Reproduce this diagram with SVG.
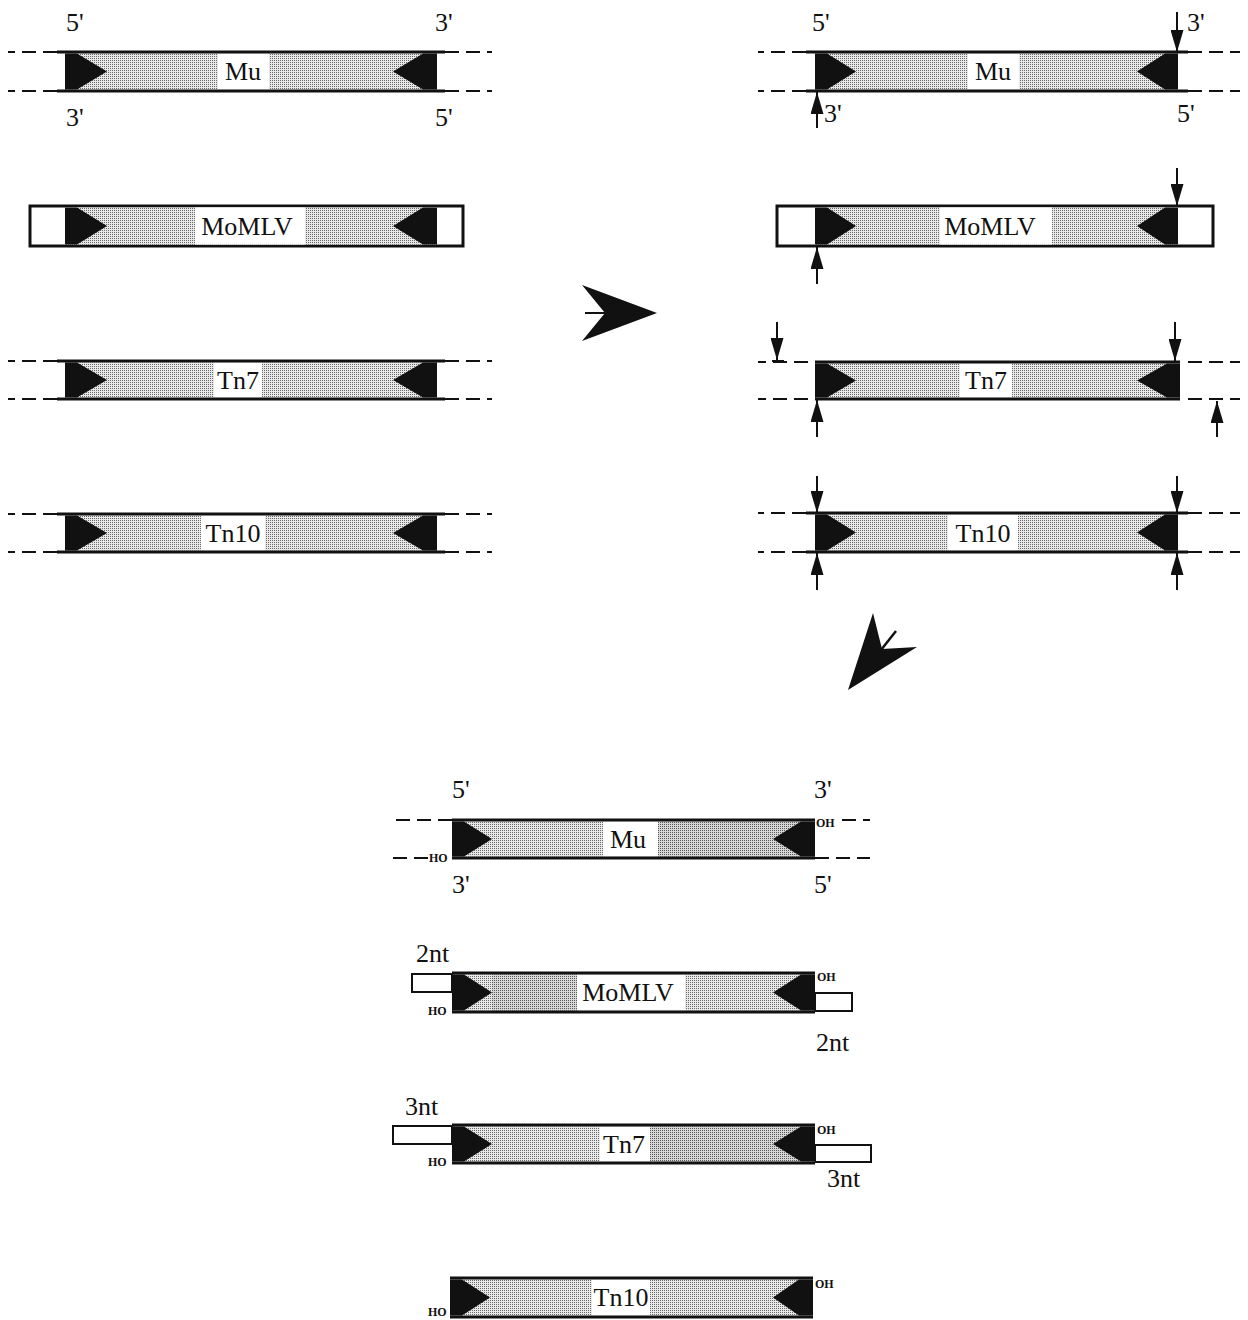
<svg xmlns="http://www.w3.org/2000/svg" width="1248" height="1320" viewBox="0 0 1248 1320">
  <style>
    .ln { stroke: #111; stroke-width: 3; fill: none; }
    .dash { stroke: #111; stroke-width: 2; stroke-dasharray: 14 7; fill: none; }
    .cap { fill: #111; }
    .stip { fill: url(#stip); }
    .stip2 { fill: url(#stip2); }
    .lbl { fill: #fff; }
    .frame { fill: #fff; stroke: #111; stroke-width: 3; }
    .box { fill: #fff; stroke: #111; stroke-width: 2; }
    .cut { stroke: #111; stroke-width: 2; marker-end: url(#cut); }
    .t { font-family: "Liberation Serif", "Times New Roman", serif; font-size: 26px; fill: #111; }
    .s { font-family: "Liberation Serif", "Times New Roman", serif; font-size: 12px; font-weight: bold; fill: #111; }
    .mid { text-anchor: middle; }
  </style>
  <defs>
    <!-- fine halftone stipple used inside the element bodies -->
    <pattern id="stip" width="2" height="2" patternUnits="userSpaceOnUse">
      <rect width="2" height="2" fill="#e8e8e8"/>
      <rect width="1" height="1" fill="#6a6a6a"/>
    </pattern>
    <pattern id="stip2" width="2" height="2" patternUnits="userSpaceOnUse">
      <rect width="2" height="2" fill="#d6d6d6"/>
      <rect width="1" height="1" fill="#5a5a5a"/>
    </pattern>
    <marker id="cut" markerUnits="userSpaceOnUse" markerWidth="22" markerHeight="13" viewBox="0 0 22 13" refX="22" refY="6.5" orient="auto">
      <path d="M0,0 L22,6.5 L0,13 Z" fill="#111"/>
    </marker>
  </defs>
  <rect width="1248" height="1320" fill="#fff"/>

  <!-- left column: intact elements -->
  <g id="mu-left">
    <rect class="stip" x="65" y="53.5" width="372" height="36"/>
    <polygon class="cap" points="65,53.5 77,53.5 107,71.5 77,89.5 65,89.5"/>
    <polygon class="cap" points="437,53.5 423,53.5 393,71.5 423,89.5 437,89.5"/>
    <rect class="lbl" x="218" y="53.5" width="51" height="36"/>
    <text class="t mid" x="243" y="80">Mu</text>
    <line class="ln" x1="57" y1="52" x2="445" y2="52"/>
    <line class="ln" x1="57" y1="91" x2="445" y2="91"/>
    <line class="dash" x1="57" y1="52" x2="8" y2="52"/>
    <line class="dash" x1="57" y1="91" x2="8" y2="91"/>
    <line class="dash" x1="445" y1="52" x2="492" y2="52"/>
    <line class="dash" x1="445" y1="91" x2="492" y2="91"/>
    <text class="t" x="66" y="31">5'</text>
    <text class="t" x="435" y="31">3'</text>
    <text class="t" x="66" y="126">3'</text>
    <text class="t" x="435" y="126">5'</text>
  </g>

  <g id="momlv-left">
    <rect class="frame" x="30" y="206" width="433" height="40"/>
    <rect class="stip" x="65" y="207.5" width="372" height="37"/>
    <polygon class="cap" points="65,207.5 77,207.5 107,226 77,244.5 65,244.5"/>
    <polygon class="cap" points="437,207.5 423,207.5 393,226 423,244.5 437,244.5"/>
    <rect class="lbl" x="195" y="207.5" width="110" height="37"/>
    <text class="t mid" x="247" y="235">MoMLV</text>
  </g>

  <g id="tn7-left">
    <rect class="stip" x="65" y="362.5" width="372" height="35"/>
    <polygon class="cap" points="65,362.5 77,362.5 107,380 77,397.5 65,397.5"/>
    <polygon class="cap" points="437,362.5 423,362.5 393,380 423,397.5 437,397.5"/>
    <rect class="lbl" x="214" y="362.5" width="48" height="35"/>
    <text class="t mid" x="238" y="389">Tn7</text>
    <line class="ln" x1="57" y1="361" x2="445" y2="361"/>
    <line class="ln" x1="57" y1="399" x2="445" y2="399"/>
    <line class="dash" x1="57" y1="361" x2="8" y2="361"/>
    <line class="dash" x1="57" y1="399" x2="8" y2="399"/>
    <line class="dash" x1="445" y1="361" x2="492" y2="361"/>
    <line class="dash" x1="445" y1="399" x2="492" y2="399"/>
  </g>

  <g id="tn10-left">
    <rect class="stip" x="65" y="515.5" width="372" height="35"/>
    <polygon class="cap" points="65,515.5 77,515.5 107,533 77,550.5 65,550.5"/>
    <polygon class="cap" points="437,515.5 423,515.5 393,533 423,550.5 437,550.5"/>
    <rect class="lbl" x="201" y="515.5" width="64" height="35"/>
    <text class="t mid" x="233" y="542">Tn10</text>
    <line class="ln" x1="57" y1="514" x2="445" y2="514"/>
    <line class="ln" x1="57" y1="552" x2="445" y2="552"/>
    <line class="dash" x1="57" y1="514" x2="8" y2="514"/>
    <line class="dash" x1="57" y1="552" x2="8" y2="552"/>
    <line class="dash" x1="445" y1="514" x2="492" y2="514"/>
    <line class="dash" x1="445" y1="552" x2="492" y2="552"/>
  </g>

  <!-- right column: elements with cleavage sites -->
  <g id="mu-right">
    <rect class="stip" x="815" y="53.5" width="363" height="36"/>
    <polygon class="cap" points="815,53.5 827,53.5 856,71.5 827,89.5 815,89.5"/>
    <polygon class="cap" points="1178,53.5 1165,53.5 1137,71.5 1165,89.5 1178,89.5"/>
    <rect class="lbl" x="968" y="53.5" width="51" height="36"/>
    <text class="t mid" x="993" y="80">Mu</text>
    <line class="ln" x1="806" y1="52" x2="1188" y2="52"/>
    <line class="ln" x1="806" y1="91" x2="1188" y2="91"/>
    <line class="dash" x1="806" y1="52" x2="758" y2="52"/>
    <line class="dash" x1="806" y1="91" x2="758" y2="91"/>
    <line class="dash" x1="1188" y1="52" x2="1240" y2="52"/>
    <line class="dash" x1="1188" y1="91" x2="1240" y2="91"/>
    <text class="t" x="812" y="31">5'</text>
    <text class="t" x="1187" y="31">3'</text>
    <text class="t" x="824" y="122">3'</text>
    <text class="t" x="1177" y="122">5'</text>
  </g>

  <g id="momlv-right">
    <rect class="frame" x="777" y="206" width="436" height="40"/>
    <rect class="stip" x="815" y="207.5" width="363" height="37"/>
    <polygon class="cap" points="815,207.5 827,207.5 856,226 827,244.5 815,244.5"/>
    <polygon class="cap" points="1178,207.5 1165,207.5 1137,226 1165,244.5 1178,244.5"/>
    <rect class="lbl" x="940" y="207.5" width="112" height="37"/>
    <text class="t mid" x="990" y="235">MoMLV</text>
  </g>

  <g id="tn7-right">
    <rect class="stip" x="815" y="363.5" width="365" height="34"/>
    <polygon class="cap" points="815,363.5 827,363.5 856,380.5 827,397.5 815,397.5"/>
    <polygon class="cap" points="1180,363.5 1167,363.5 1137,380.5 1167,397.5 1180,397.5"/>
    <rect class="lbl" x="960" y="363.5" width="52" height="34"/>
    <text class="t mid" x="986" y="389">Tn7</text>
    <line class="ln" x1="815" y1="362" x2="1180" y2="362"/>
    <line class="ln" x1="815" y1="399" x2="1180" y2="399"/>
    <line class="dash" x1="808" y1="362" x2="758" y2="362"/>
    <line class="dash" x1="808" y1="399" x2="758" y2="399"/>
    <line class="dash" x1="1188" y1="362" x2="1240" y2="362"/>
    <line class="dash" x1="1188" y1="399" x2="1240" y2="399"/>
  </g>

  <g id="tn10-right">
    <rect class="stip" x="815" y="514.5" width="363" height="36"/>
    <polygon class="cap" points="815,514.5 827,514.5 856,532.5 827,550.5 815,550.5"/>
    <polygon class="cap" points="1178,514.5 1165,514.5 1137,532.5 1165,550.5 1178,550.5"/>
    <rect class="lbl" x="948" y="514.5" width="70" height="36"/>
    <text class="t mid" x="983" y="542">Tn10</text>
    <line class="ln" x1="806" y1="513" x2="1188" y2="513"/>
    <line class="ln" x1="806" y1="552" x2="1188" y2="552"/>
    <line class="dash" x1="806" y1="513" x2="758" y2="513"/>
    <line class="dash" x1="806" y1="552" x2="758" y2="552"/>
    <line class="dash" x1="1188" y1="513" x2="1240" y2="513"/>
    <line class="dash" x1="1188" y1="552" x2="1240" y2="552"/>
  </g>

  <!-- bottom: cleaved products -->
  <g id="mu-product">
    <rect class="stip" x="452" y="821.5" width="363" height="35"/>
    <rect class="stip2" x="658" y="821.5" width="143" height="35"/>
    <polygon class="cap" points="452,821.5 464,821.5 492,839 464,856.5 452,856.5"/>
    <polygon class="cap" points="815,821.5 801,821.5 773,839 801,856.5 815,856.5"/>
    <rect class="lbl" x="603" y="821.5" width="55" height="35"/>
    <text class="t mid" x="628" y="848">Mu</text>
    <line class="ln" x1="452" y1="820" x2="815" y2="820"/>
    <line class="ln" x1="452" y1="858" x2="815" y2="858"/>
    <line class="dash" x1="452" y1="820" x2="393" y2="820"/>
    <line class="dash" x1="428" y1="858" x2="393" y2="858"/>
    <line class="dash" x1="842" y1="820" x2="870" y2="820"/>
    <line class="dash" x1="815" y1="858" x2="870" y2="858"/>
    <text class="s" x="816" y="827">OH</text>
    <text class="s" x="429" y="862">HO</text>
    <text class="t" x="452" y="798">5'</text>
    <text class="t" x="814" y="798">3'</text>
    <text class="t" x="452" y="893">3'</text>
    <text class="t" x="814" y="893">5'</text>
  </g>

  <g id="momlv-product">
    <rect class="box" x="412" y="974" width="40" height="18"/>
    <rect class="box" x="815" y="993" width="37" height="18"/>
    <rect class="stip" x="452" y="974.5" width="363" height="36"/>
    <rect class="stip2" x="492" y="974.5" width="85" height="36"/>
    <polygon class="cap" points="452,974.5 464,974.5 492,992.5 464,1010.5 452,1010.5"/>
    <polygon class="cap" points="815,974.5 801,974.5 773,992.5 801,1010.5 815,1010.5"/>
    <rect class="lbl" x="577" y="974.5" width="108" height="36"/>
    <text class="t mid" x="628" y="1001">MoMLV</text>
    <line class="ln" x1="452" y1="973" x2="815" y2="973"/>
    <line class="ln" x1="452" y1="1012" x2="815" y2="1012"/>
    <text class="s" x="817" y="981">OH</text>
    <text class="s" x="428" y="1015">HO</text>
    <text class="t" x="416" y="962">2nt</text>
    <text class="t" x="816" y="1051">2nt</text>
  </g>

  <g id="tn7-product">
    <rect class="box" x="393" y="1126" width="59" height="18"/>
    <rect class="box" x="815" y="1145" width="56" height="17"/>
    <rect class="stip" x="452" y="1126.5" width="363" height="35"/>
    <rect class="stip2" x="650" y="1126.5" width="151" height="35"/>
    <polygon class="cap" points="452,1126.5 464,1126.5 492,1144 464,1161.5 452,1161.5"/>
    <polygon class="cap" points="815,1126.5 801,1126.5 773,1144 801,1161.5 815,1161.5"/>
    <rect class="lbl" x="600" y="1126.5" width="50" height="35"/>
    <text class="t mid" x="624" y="1153">Tn7</text>
    <line class="ln" x1="452" y1="1125" x2="815" y2="1125"/>
    <line class="ln" x1="452" y1="1163" x2="815" y2="1163"/>
    <text class="s" x="817" y="1134">OH</text>
    <text class="s" x="428" y="1166">HO</text>
    <text class="t" x="405" y="1115">3nt</text>
    <text class="t" x="827" y="1187">3nt</text>
  </g>

  <g id="tn10-product">
    <rect class="stip" x="450" y="1279.5" width="363" height="36"/>
    <polygon class="cap" points="450,1279.5 462,1279.5 490,1297.5 462,1315.5 450,1315.5"/>
    <polygon class="cap" points="813,1279.5 799,1279.5 773,1297.5 799,1315.5 813,1315.5"/>
    <rect class="lbl" x="592" y="1279.5" width="58" height="36"/>
    <text class="t mid" x="621" y="1306">Tn10</text>
    <line class="ln" x1="450" y1="1278" x2="813" y2="1278"/>
    <line class="ln" x1="450" y1="1317" x2="813" y2="1317"/>
    <text class="s" x="815" y="1288">OH</text>
    <text class="s" x="428" y="1316">HO</text>
  </g>

  <!-- cleavage arrows and step arrows -->
  <g id="connectors">
    <line class="cut" x1="1177" y1="12" x2="1177" y2="52"/>
    <line class="cut" x1="817" y1="128" x2="817" y2="92"/>
    <line class="cut" x1="1177" y1="168" x2="1177" y2="206"/>
    <line class="cut" x1="817" y1="284" x2="817" y2="247"/>
    <line class="cut" x1="777" y1="322" x2="777" y2="360"/>
    <line class="ln" x1="772" y1="361" x2="784" y2="361" style="stroke-width:2"/>
    <line class="cut" x1="1175" y1="322" x2="1175" y2="361"/>
    <line class="cut" x1="817" y1="437" x2="817" y2="400"/>
    <line class="cut" x1="1217" y1="437" x2="1217" y2="401"/>
    <line class="cut" x1="817" y1="476" x2="817" y2="513"/>
    <line class="cut" x1="1177" y1="476" x2="1177" y2="513"/>
    <line class="cut" x1="817" y1="590" x2="817" y2="553"/>
    <line class="cut" x1="1177" y1="590" x2="1177" y2="553"/>

    <polygon class="cap" points="582,285 657,313 582,341 605,313"/>
    <line class="ln" x1="585" y1="313" x2="606" y2="313" style="stroke-width:2"/>
    <polygon class="cap" points="873,613 848,690 917,647 882,649"/>
    <line class="ln" x1="896" y1="631" x2="881" y2="650" style="stroke-width:2.5"/>
  </g>
</svg>
